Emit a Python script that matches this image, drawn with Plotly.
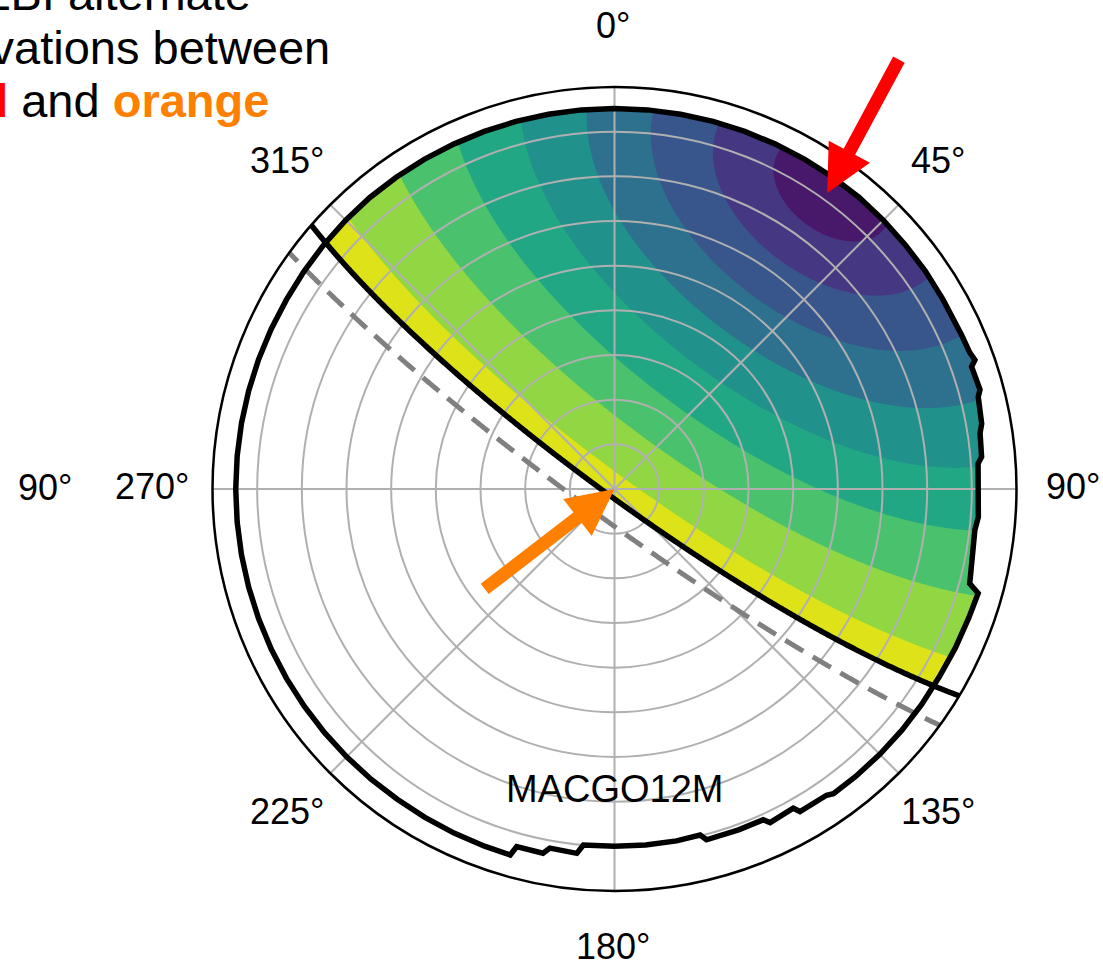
import numpy as np
import plotly.graph_objects as go

# ---------------- data ----------------
station_name = "MACGO12M"

# zenith of the remote station as seen from MACGO12M (azimuth, elevation in deg)
remote_zenith_az = 36.0
remote_zenith_el = 6.8
# filled-contour levels: angular distance from the remote zenith (deg)
contour_levels = [0, 10, 20, 30, 40, 50, 60, 70, 80, 90]
remote_cutoff_dist = 85.0    # remote elevation >= 5 deg  (solid black curve)
remote_horizon_dist = 90.0   # remote horizon             (dashed grey curve)

# local horizon mask: azimuth (deg) and zenith distance (deg)
mask_az = [0, 5, 10, 15, 20, 25, 30, 35, 40, 45, 50, 55, 60, 66, 69, 70.3, 71.1,
           74.8, 75.8, 79.9, 81.3, 85.0, 86.0, 94.4, 96.5, 104.9, 106.0, 110, 115,
           120, 125, 130, 135, 140, 144.3, 145.3, 150.1, 150.75, 155.0, 155.8, 160,
           165.3, 166.1, 170, 175, 180, 185.0, 185.9, 190.2, 191.1, 195.3, 195.9,
           200, 205, 210, 215, 220, 225, 230, 235, 240, 245, 250, 255, 260, 265,
           270, 275, 280, 285, 290, 295, 300, 305, 310, 315, 320, 325, 330, 335,
           340, 345, 350, 355, 360]
mask_zen = [85.2, 85.2, 85.2, 85.2, 85.2, 85.2, 85.2, 85.2, 85.2, 85.1, 85.0, 85.0,
            84.9, 85.0, 85.2, 85.7, 84.5, 84.8, 84.0, 83.5, 82.8, 82.5, 81.6, 81.7,
            81.2, 82.3, 84.7, 84.4, 84.2, 84.0, 84.0, 84.0, 84.0, 84.0, 84.0, 83.4,
            83.3, 81.9, 82.4, 81.2, 81.2, 81.2, 79.8, 80.0, 80.0, 80.0, 80.0, 82.0,
            81.7, 83.1, 83.0, 85.2, 85.1, 85.0, 84.9, 84.8, 84.8, 84.8, 84.8, 84.8,
            84.8, 84.8, 84.8, 84.8, 84.8, 84.8, 84.8, 84.8, 84.8, 84.8, 84.8, 84.8,
            84.8, 84.9, 85.0, 85.1, 85.2, 85.2, 85.2, 85.2, 85.2, 85.2, 85.2, 85.2,
            85.2]

tick_angles = [0, 45, 90, 135, 180, 225, 270, 315]
tick_labels = ["0°", "45°", "90°", "135°", "180°", "225°", "270°", "315°"]
radial_grid = [10, 20, 30, 40, 50, 60, 70, 80]

# arrows (azimuth, zenith distance)
red_arrow_tip = (35.7, 81.6)
red_arrow_tail = (33.5, 115.7)
orange_arrow_tip = (0.0, 0.0)
orange_arrow_tail = (232.4, 37.1)

caption_lines = [
    "VLBI alternate",
    "observations between",
    "<b><span style='color:#ff0000'>red</span></b> and "
    "<b><span style='color:#ff8000'>orange</span></b>",
]
neighbour_label = "90°"

# ---------------- styles ----------------
band_colors = ["#48186a", "#453781", "#39568c", "#2d718e", "#21918c",
               "#22a785", "#4ac16d", "#90d743", "#dde318"]
W, H = 1103, 965
CX, CY, R = 614.5, 489.0, 402.0
S = R / 90.0                      # pixels per degree
dom_x = [(CX - R) / W, (CX + R) / W]
dom_y = [(H - CY - R) / H, (H - CY + R) / H]
GRID = "#b0b0b0"
TICKFONT = dict(family="Liberation Sans", size=36, color="black")
CAPFONT = dict(family="Liberation Sans", size=47, color="black")
LABEL_R = 103


# ---------------- geometry helpers ----------------
def small_circle(az0, el0, dist, n=1441):
    """Points at angular distance `dist` from direction (az0, el0) -> (az, zen)."""
    a, e, d = np.radians(az0), np.radians(el0), np.radians(dist)
    P = np.array([np.cos(e) * np.sin(a), np.cos(e) * np.cos(a), np.sin(e)])
    Z = np.array([0.0, 0.0, 1.0])
    u = Z - P.dot(Z) * P
    u /= np.linalg.norm(u)
    v = np.cross(P, u)
    b = np.radians(np.linspace(-180, 180, n))
    Q = (np.cos(d) * P[:, None]
         + np.sin(d) * (np.cos(b)[None, :] * u[:, None] + np.sin(b)[None, :] * v[:, None]))
    zen = np.degrees(np.arccos(np.clip(Q[2], -1, 1)))
    az = np.degrees(np.arctan2(Q[0], Q[1])) % 360
    return az, zen


def to_xy(az, zen):
    return zen * np.sin(np.radians(az)), zen * np.cos(np.radians(az))


fig = go.Figure()

# ---- filled contour bands (bottom polar) ----
for k in range(len(contour_levels) - 2, -1, -1):
    outer = min(contour_levels[k + 1], remote_cutoff_dist)
    az, zen = small_circle(remote_zenith_az, remote_zenith_el, outer)
    fig.add_trace(go.Scatterpolar(
        r=zen, theta=az, mode="lines", fill="toself", fillcolor=band_colors[k],
        line=dict(width=0, color=band_colors[k]), subplot="polar",
        showlegend=False, hoverinfo="skip"))

# white area between horizon mask and outer frame
outer_theta = list(np.arange(360, -1, -5))
fig.add_trace(go.Scatterpolar(
    r=list(mask_zen) + [95] * len(outer_theta), theta=list(mask_az) + outer_theta,
    mode="lines", fill="toself", fillcolor="white",
    line=dict(width=0, color="white"), subplot="polar", showlegend=False,
    hoverinfo="skip"))

# ---- lines on top polar ----
az_h, zen_h = small_circle(remote_zenith_az, remote_zenith_el, remote_horizon_dist)
sel = zen_h <= 92
fig.add_trace(go.Scatterpolar(
    r=zen_h[sel], theta=az_h[sel], mode="lines", subplot="polar2",
    line=dict(color="#808080", width=5, dash="21px,11px"),
    showlegend=False, hoverinfo="skip"))

az_c, zen_c = small_circle(remote_zenith_az, remote_zenith_el, remote_cutoff_dist)
sel = zen_c <= 92
fig.add_trace(go.Scatterpolar(
    r=zen_c[sel], theta=az_c[sel], mode="lines", subplot="polar2",
    line=dict(color="black", width=5.5), showlegend=False, hoverinfo="skip"))

fig.add_trace(go.Scatterpolar(
    r=mask_zen, theta=mask_az, mode="lines", subplot="polar2",
    line=dict(color="black", width=5.5), showlegend=False, hoverinfo="skip"))

# cartesian overlay (whole page, same scale as the polar plot) for text / arrows
fig.add_trace(go.Scatter(x=[], y=[], xaxis="x", yaxis="y", showlegend=False))

hidden_radial = dict(range=[0, 90], showgrid=False, showline=False, showticklabels=False,
                     ticks="")
hidden_angular = dict(direction="clockwise", rotation=90, showgrid=False,
                      showline=False, showticklabels=False, ticks="")

fig.update_layout(
    width=W, height=H, margin=dict(l=0, r=0, t=0, b=0),
    paper_bgcolor="white", plot_bgcolor="rgba(0,0,0,0)",
    polar=dict(domain=dict(x=dom_x, y=dom_y), bgcolor="white",
               radialaxis=hidden_radial, angularaxis=hidden_angular),
    polar2=dict(domain=dict(x=dom_x, y=dom_y), bgcolor="rgba(0,0,0,0)",
                radialaxis=dict(range=[0, 90], tickvals=radial_grid, showgrid=True,
                                gridcolor=GRID, gridwidth=2.3, showline=False,
                                showticklabels=False, ticks=""),
                angularaxis=dict(direction="clockwise", rotation=90,
                                 tickvals=tick_angles, showgrid=True, gridcolor=GRID,
                                 gridwidth=2.3, showline=True, linecolor="black",
                                 linewidth=2.5, showticklabels=False, ticks="")),
    xaxis=dict(domain=[0, 1], range=[-CX / S, (W - CX) / S], visible=False),
    yaxis=dict(domain=[0, 1], range=[-(H - CY) / S, CY / S], visible=False),
)

annotations = []
# angular tick labels
for ang, lab in zip(tick_angles, tick_labels):
    lx, ly = to_xy(ang, LABEL_R)
    annotations.append(dict(x=lx, y=ly, xref="x", yref="y", text=lab, showarrow=False,
                            xanchor="center", yanchor="middle", font=TICKFONT,
                            xshift=-2, yshift=3))

for tip, tail, col in [(red_arrow_tip, red_arrow_tail, "#ff0000"),
                       (orange_arrow_tip, orange_arrow_tail, "#ff8000")]:
    tx, ty = to_xy(*tip)
    sx, sy = to_xy(*tail)
    annotations.append(dict(x=tx, y=ty, ax=sx, ay=sy, xref="x", yref="y",
                            axref="x", ayref="y", text="", showarrow=True,
                            arrowhead=2, arrowsize=0.72, arrowwidth=13,
                            arrowcolor=col, standoff=0))

annotations.append(dict(x=0, y=-67.2, xref="x", yref="y", text=station_name,
                        showarrow=False, font=dict(family="Liberation Sans", size=38,
                                                   color="black"),
                        xanchor="center", yanchor="middle"))

caption_baselines = [10, 63.5, 117]
for line, base in zip(caption_lines, caption_baselines):
    mid = base - 0.3465 * CAPFONT["size"]
    annotations.append(dict(x=101.5 / W, y=1 - mid / H, xref="paper", yref="paper",
                            text=line, showarrow=False, xanchor="center",
                            yanchor="middle", font=CAPFONT))

annotations.append(dict(x=45 / W, y=1 - 487 / H, xref="paper", yref="paper",
                        text=neighbour_label, showarrow=False, xanchor="center",
                        yanchor="middle", font=TICKFONT))

fig.update_layout(annotations=annotations)
fig.write_html("out.html")
